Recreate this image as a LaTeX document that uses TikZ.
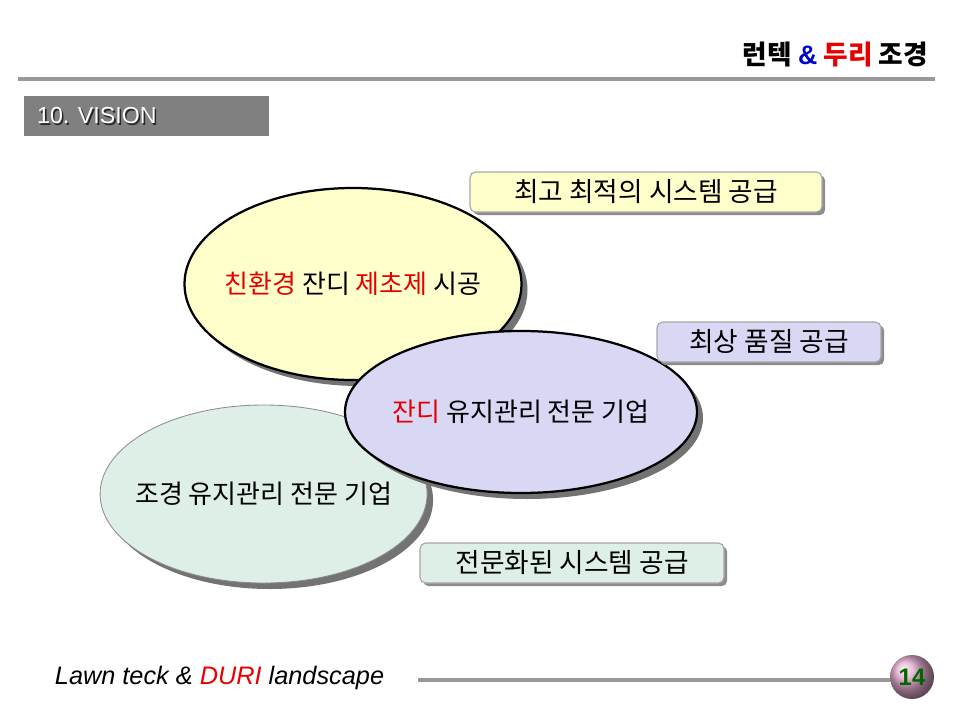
\documentclass[tikz,border=0pt]{standalone}
\usepackage{fontspec}
\setmainfont{Noto Sans CJK KR}
\newfontfamily\latinfont{Liberation Sans}
\usetikzlibrary{shapes.geometric,shadows}
\definecolor{ovalyellow}{HTML}{FFFFCC}
\definecolor{ovalblue}{HTML}{D8D8F4}
\definecolor{ovalgreen}{HTML}{DDEFE6}
\definecolor{rulegray}{HTML}{999999}
\definecolor{titlegray}{HTML}{808080}
\definecolor{krred}{HTML}{E60000}
\definecolor{krblue}{HTML}{0000CC}
\definecolor{numgreen}{HTML}{006600}
\definecolor{pagepink}{HTML}{E0A8CC}

\begin{document}
\begin{tikzpicture}[
  oval/.style={ellipse, inner xsep=-2cm, inner ysep=-0.2cm,
    font=\fontsize{18.5}{22}\selectfont,
    drop shadow={shadow xshift=0.15cm, shadow yshift=-0.15cm, fill=black!55, opacity=1}},
  tag/.style={rectangle, rounded corners=4pt, draw=black!35, line width=0.8pt,
    minimum height=1cm, font=\fontsize{19}{22}\selectfont,
    drop shadow={shadow xshift=0.08cm, shadow yshift=-0.08cm, fill=black!45, opacity=1}}]
\useasboundingbox[fill=white] (0,0) rectangle (24,18);

% header
\node[anchor=east, font=\bfseries\fontsize{19}{22}\selectfont] (head) at (23.32,16.625)
{런텍 \textcolor{krblue}{\latinfont\&} \textcolor{krred}{두리} 조경};
\coordinate (topl) at (0.45,16.025);
\coordinate (topr) at (23.375,16.025);
\draw[rulegray, line width=3pt] (topl) -- (topr);

% section title
\node[fill=titlegray, minimum width=6.125cm, minimum height=1cm, inner sep=0pt,
  anchor=north west] (sec) at (0.6,15.6) {};
\node[anchor=west, text=black!85, font=\latinfont\fontsize{16.5}{19}\selectfont]
  (secshade) at (0.845,15.06) {10. VISION};
\node[anchor=west, text=white, font=\latinfont\fontsize{16.5}{19}\selectfont]
  (sectext) at (0.805,15.1) {10. VISION};

% ovals
\node[oval, fill=ovalgreen, draw=black!45, line width=0.6pt,
  minimum width=8.175cm, minimum height=4.45cm] (care) at (6.59,5.65)
{조경 유지관리 전문 기업};
\node[oval, fill=ovalyellow, draw=black, line width=1.6pt,
  minimum width=8.425cm, minimum height=4.8cm] (eco) at (8.825,10.9)
{\textcolor{krred}{친환경} 잔디 \textcolor{krred}{제초제} 시공};
\node[oval, fill=ovalblue, draw=black, line width=1.6pt,
  minimum width=8.8cm, minimum height=4.05cm] (turf) at (13.025,7.7)
{\textcolor{krred}{잔디} 유지관리 전문 기업};

% tags
\node[tag, fill=ovalyellow, minimum width=8.8cm] (best) at (16.15,13.2)
{최고 최적의 시스템 공급};
\node[tag, fill=ovalblue, minimum width=5.6cm] (quality) at (19.225,9.45)
{최상 품질 공급};
\node[tag, fill=ovalgreen, minimum width=7.6cm] (special) at (14.3,3.925)
{전문화된 시스템 공급};

% footer
\node[anchor=west, font=\latinfont\itshape\fontsize{18}{21}\selectfont] (foot)
  at (1.25,1.05) {Lawn teck \& \textcolor{krred}{DURI} landscape};
\node[circle, minimum size=1.1cm, inner sep=0pt, ball color=pagepink,
  text=numgreen, font=\latinfont\bfseries\fontsize{17}{20}\selectfont] (page)
  at (22.8,1.075) {14};
\coordinate (footl) at (10.45,1.0);
\draw[rulegray, line width=3pt] (footl) -- (page.west |- footl);
\end{tikzpicture}
\end{document}
